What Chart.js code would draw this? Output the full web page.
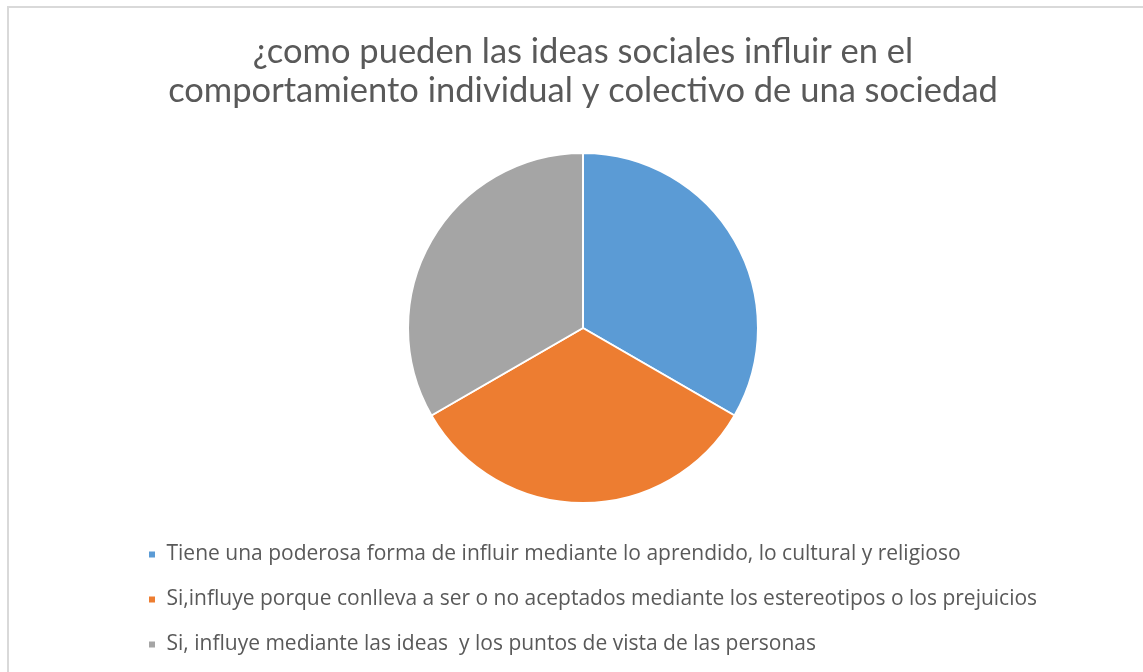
<!DOCTYPE html>
<html>
<head>
<meta charset="utf-8">
<script src="https://cdn.jsdelivr.net/npm/chart.js@4.4.1/dist/chart.umd.min.js"></script>
<style>
	body { margin: 0; background: #fff; }
	#wrap { position: relative; width: 1143px; height: 672px; overflow: hidden; }
	#frame { position: absolute; left: 7px; top: 6px; width: 1200px; height: 700px; border-left: 2px solid #d9d9d9; border-top: 2px solid #d9d9d9; }
	#mycanvas { position: absolute; left: 0; top: 0; }
</style>
</head>
<body>
<div id="wrap">
	<div id="frame"></div>
	<canvas id="mycanvas" width="1143" height="672"></canvas>
</div>
<script>
var titleLines = ["¿como pueden las ideas sociales influir en el", "comportamiento individual y colectivo de una sociedad"];
var categories = [
	"Tiene una poderosa forma de influir mediante lo aprendido, lo cultural y religioso",
	"Si,influye porque conlleva a ser o no aceptados mediante los estereotipos o los prejuicios",
	"Si, influye mediante las ideas  y los puntos de vista de las personas"
];
var values = [1, 1, 1];
var colors = ["#5B9BD5", "#ED7D31", "#A5A5A5"];

var ctx = document.getElementById("mycanvas");
var PieGraph = new Chart(ctx, {
	type: 'pie',
	data: {
		labels: categories,
		datasets: [{
			data: values,
			backgroundColor: colors,
			borderColor: "#ffffff",
			borderWidth: 2,
			radius: 175
		}]
	},
	options: {
		responsive: false,
		animation: false,
		layout: {
			padding: { left: 124, right: 101, top: 0, bottom: 7 }
		},
		plugins: {
			title: {
				display: true,
				text: titleLines,
				color: "#595959",
				font: { family: "Lato", size: 34.5, weight: 'normal', lineHeight: '39px' },
				padding: { top: 32, bottom: 26 }
			},
			legend: {
				display: true,
				position: 'bottom',
				align: 'start',
				labels: {
					boxWidth: 8,
					boxHeight: 8,
					padding: 24,
					color: "#595959",
					font: { family: "Open Sans", size: 21 }
				}
			},
			tooltip: { enabled: false }
		}
	}
});
</script>
</body>
</html>
